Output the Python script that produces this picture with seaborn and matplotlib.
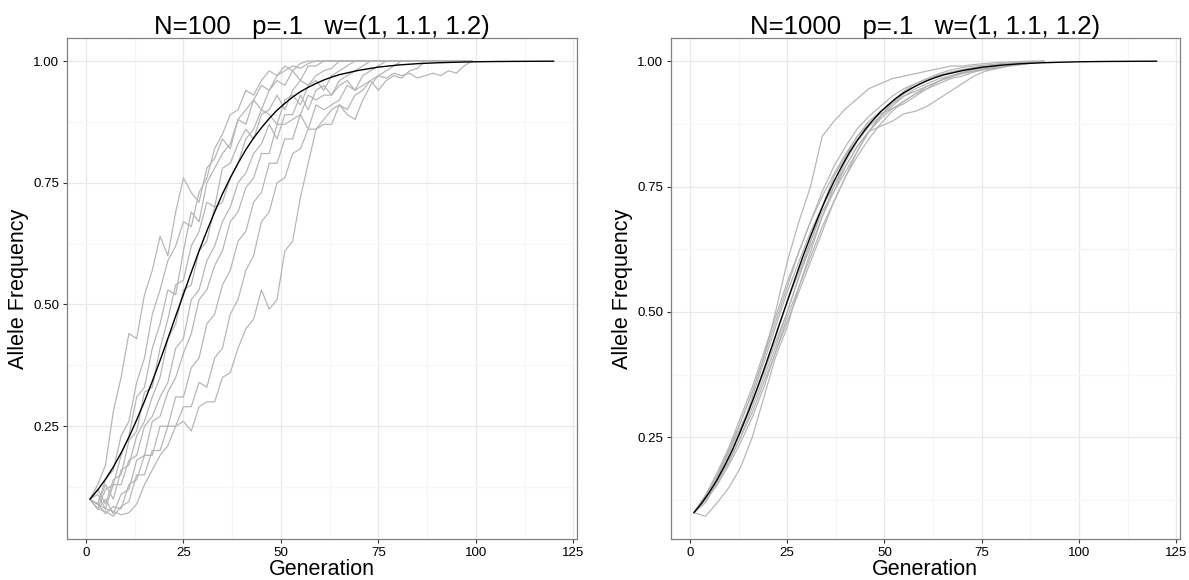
import numpy as np
import pandas as pd
import seaborn as sns
import matplotlib
matplotlib.use("Agg")
import matplotlib.pyplot as plt

# ---------------- data ----------------
titles = ["N=100   p=.1   w=(1, 1.1, 1.2)", "N=1000   p=.1   w=(1, 1.1, 1.2)"]
x_label = "Generation"
y_label = "Allele Frequency"
x_ticks = [0, 25, 50, 75, 100, 125]
y_ticks = [0.25, 0.50, 0.75, 1.00]
y_tick_labels = ["0.25", "0.50", "0.75", "1.00"]

# deterministic expectation (black curve), same for both panels
black_gens = list(range(1, 66, 2)) + list(range(70, 121, 5))
black_vals = [.100, .119, .141, .166, .195, .227, .263, .301, .342, .385, .430,
              .476, .521, .566, .610, .651, .690, .727, .760, .790, .818, .842,
              .863, .882, .899, .913, .926, .937, .946, .954, .961, .967, .972,
              .981, .9875, .9918, .9946, .9964, .9976, .9985, .999, .9993,
              .9995, .9997]

# N = 100 simulations (every 2nd generation, 1..99)
left_gens = list(range(1, 100, 2))
left_runs = [
    [.10, .13, .17, .28, .35, .44, .43, .52, .57, .64, .60, .69, .76, .73, .71,
     .78, .80, .84, .82, .88, .90, .92, .95, .94, .97, .99, .98, .995, 1.0] + [1.0] * 21,
    [.10, .09, .14, .16, .23, .26, .34, .39, .48, .53, .59, .62, .67, .66, .73,
     .76, .82, .85, .89, .90, .94, .93, .96, .98, .97, .98, .99, .985, .995, 1.0] + [1.0] * 20,
    [.10, .08, .12, .13, .19, .23, .31, .33, .41, .46, .53, .52, .61, .69, .67,
     .75, .78, .81, .83, .88, .87, .92, .90, .94, .96, .95, .98, .96, .99, .99, 1.0] + [1.0] * 19,
    [.10, .12, .09, .14, .15, .22, .24, .32, .33, .41, .47, .54, .55, .62, .65,
     .71, .70, .78, .79, .83, .86, .84, .89, .90, .93, .90, .94, .96, .95, .97,
     .98, .985, 1.0] + [1.0] * 17,
    [.10, .09, .13, .10, .16, .17, .23, .26, .31, .35, .43, .46, .53, .54, .61,
     .63, .70, .71, .76, .79, .84, .86, .90, .89, .87, .92, .93, .91, .95, .96,
     .94, .97, .98, .99, 1.0] + [1.0] * 15,
    [.10, .11, .08, .13, .13, .18, .19, .25, .27, .31, .34, .41, .43, .51, .53,
     .59, .62, .67, .70, .75, .77, .81, .83, .87, .84, .89, .89, .93, .90, .94,
     .95, .93, .96, .97, .98, .99, 1.0] + [1.0] * 13,
    [.10, .08, .10, .07, .11, .12, .18, .19, .26, .27, .32, .35, .40, .44, .51,
     .53, .58, .61, .67, .69, .74, .76, .81, .81, .87, .87, .88, .89, .93, .92,
     .93, .93, .95, .96, .94, .97, .98, .99, 1.0] + [1.0] * 11,
    [.10, .09, .07, .085, .08, .13, .14, .19, .19, .25, .25, .31, .31, .37, .39,
     .46, .48, .54, .57, .63, .65, .71, .73, .79, .79, .84, .84, .89, .86, .91,
     .90, .91, .92, .95, .94, .95, .96, .97, .98, .99, 1.0] + [1.0] * 9,
    [.10, .08, .075, .065, .085, .095, .15, .15, .20, .20, .25, .25, .29, .29, .34,
     .33, .39, .41, .48, .51, .57, .60, .67, .69, .75, .76, .81, .82, .86, .86,
     .87, .87, .91, .90, .93, .94, .96, .94, .96, .97, .965, .98, .985, 1.0] + [1.0] * 6,
    [.10, .09, .08, .075, .068, .072, .09, .13, .16, .19, .21, .25, .26, .24, .29,
     .30, .30, .35, .36, .41, .45, .47, .53, .49, .51, .61, .63, .72, .79, .86,
     .88, .90, .91, .89, .88, .92, .95, .97, .965, .975, .97, .975, .965, .97, .975,
     .97, .98, .975, .99, 1.0],
]

# N = 1000 simulations (every 3rd generation, 1..91)
right_gens = list(range(1, 92, 3))
right_runs = [
    [.10, .13, .17, .22, .28, .34, .41, .50, .60, .68, .75, .85, .88, .905, .925, .945,
     .955, .965, .97, .975, .98, .985, .99, .99, .993, .995, .997, .998, .999, 1.0, 1.0],
    [.10, .093, .12, .15, .19, .25, .33, .41, .47, .55, .62, .69, .75, .80, .84, .87,
     .89, .91, .93, .945, .955, .965, .97, .978, .983, .987, .99, .993, .995, .997, .998],
    [.10, .13, .165, .21, .26, .32, .38, .45, .52, .58, .64, .70, .74, .78, .82, .86,
     .87, .88, .895, .90, .91, .925, .94, .955, .97, .98, .985, .99, .993, .996, .998],
    [.10, .135, .175, .225, .28, .34, .41, .48, .55, .62, .68, .74, .79, .83, .865, .89,
     .91, .93, .945, .955, .965, .972, .978, .983, .987, .99, .992, .994, .996, .998, 1.0],
    [.10, .125, .155, .195, .24, .29, .35, .42, .49, .55, .61, .67, .72, .77, .81, .845,
     .875, .90, .92, .935, .95, .96, .968, .975, .98, .985, .99, .993, .995, .997, .998],
    [.10, .12, .16, .21, .26, .33, .40, .47, .54, .60, .66, .71, .75, .79, .83, .86,
     .885, .905, .92, .935, .945, .955, .965, .97, .978, .984, .988, .992, .995, .997, .999],
    [.10, .13, .17, .22, .27, .32, .38, .44, .50, .57, .64, .71, .77, .81, .85, .88,
     .90, .915, .93, .94, .95, .96, .97, .975, .98, .983, .986, .99, .993, .996, .998],
    [.10, .125, .16, .20, .25, .31, .37, .43, .50, .57, .63, .69, .74, .79, .83, .86,
     .89, .92, .94, .955, .965, .975, .982, .987, .99, .992, .994, .996, .997, .998, .999],
    [.10, .135, .18, .23, .29, .35, .42, .49, .56, .62, .68, .73, .775, .815, .85, .875,
     .895, .905, .915, .93, .945, .96, .97, .977, .983, .987, .99, .993, .995, .997, .999],
    [.10, .13, .165, .205, .25, .30, .36, .42, .48, .54, .60, .66, .72, .77, .82, .86,
     .89, .915, .935, .95, .962, .97, .977, .982, .986, .99, .993, .995, .997, .998, 1.0],
]

# ---------------- style ----------------
sns.set_theme(style="white")
plt.rcParams['font.family'] = ['Liberation Sans', 'DejaVu Sans']
plt.rcParams['text.color'] = 'black'
plt.rcParams['axes.labelcolor'] = 'black'

GRAY = "#b3b3b3"
fig = plt.figure(figsize=(11.89, 5.80), dpi=100)
positions = [[0.0561, 0.0707, 0.4292, 0.8633], [0.5641, 0.0707, 0.4283, 0.8633]]


def long_df(gens, runs):
    rows = []
    for r, vals in enumerate(runs):
        assert len(vals) == len(gens)
        for g, v in zip(gens, vals):
            rows.append({"gen": g, "freq": v, "run": r})
    return pd.DataFrame(rows)


panels = [(left_gens, left_runs), (right_gens, right_runs)]
for pos, title, (gens, runs) in zip(positions, titles, panels):
    ax = fig.add_axes(pos)
    df = long_df(gens, runs)
    sns.lineplot(data=df, x="gen", y="freq", units="run", estimator=None,
                 color=GRAY, lw=0.85, ax=ax, legend=False)
    sns.lineplot(x=black_gens, y=black_vals, color="black", lw=1.0, ax=ax)

    # ggplot-like 5% expansion
    xs = list(gens) + black_gens
    ys = [v for run in runs for v in run] + black_vals
    xr = max(xs) - min(xs)
    yr = max(ys) - min(ys)
    ax.set_xlim(min(xs) - 0.05 * xr, max(xs) + 0.05 * xr)
    ax.set_ylim(min(ys) - 0.05 * yr, max(ys) + 0.05 * yr)

    ax.set_xticks(x_ticks)
    ax.set_xticklabels([str(t) for t in x_ticks])
    ax.set_yticks(y_ticks)
    ax.set_yticklabels(y_tick_labels)
    ax.set_xticks([12.5, 37.5, 62.5, 87.5, 112.5], minor=True)
    ax.set_yticks([0.125, 0.375, 0.625, 0.875], minor=True)

    ax.grid(which="major", color="#e8e8e8", lw=0.9)
    ax.grid(which="minor", color="#f6f6f6", lw=0.9)
    ax.set_axisbelow(True)

    for s in ax.spines.values():
        s.set_color("#808080")
        s.set_linewidth(0.9)

    ax.tick_params(which="major", length=3, width=0.8, color="#333333",
                   labelsize=9.6, labelcolor="black", pad=2.5,
                   bottom=True, left=True)
    ax.tick_params(which="minor", length=0)

    ax.set_xlabel(x_label, fontsize=15.5, labelpad=0.5, color="black")
    ax.set_ylabel(y_label, fontsize=15.5, labelpad=3, color="black")
    ax.set_title(title, fontsize=18.5, pad=3, color="black")

fig.savefig("out.png", dpi=100)
